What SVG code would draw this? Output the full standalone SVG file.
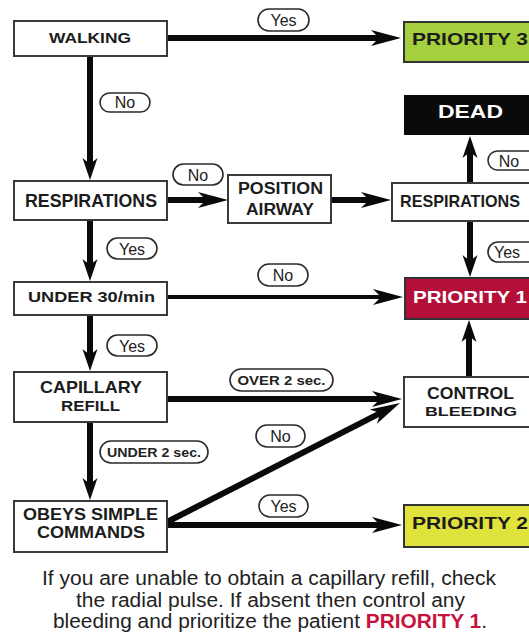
<svg xmlns="http://www.w3.org/2000/svg" width="529" height="637" viewBox="0 0 529 637">
<style>
.box{fill:#fff;stroke:#3a3a3a;stroke-width:2}
.lbl{font-family:"Liberation Sans",Arial,sans-serif;font-weight:bold;fill:#1c1c1c;text-anchor:middle}
.st{text-anchor:start}
.wt{fill:#fff}
.pill{fill:#fff;stroke:#2a2a2a;stroke-width:1.6}
.pt{font-family:"Liberation Sans",Arial,sans-serif;font-size:16px;fill:#222;text-anchor:middle}
.pb{font-weight:bold;font-size:13px}
.ch{stroke:#0a0a0a;stroke-width:6;fill:none;marker-end:url(#ah)}
.cv{stroke:#0a0a0a;stroke-width:6;fill:none;marker-end:url(#av)}
.thin{stroke-width:4}
.foot{font-family:"Liberation Sans",Arial,sans-serif;font-size:19.5px;fill:#222;text-anchor:middle}
.red{fill:#c8143c;font-weight:bold}
</style>
<defs>
<marker id="ah" markerUnits="userSpaceOnUse" markerWidth="30" markerHeight="16" refX="10" refY="8" orient="auto" overflow="visible">
<path d="M0,0 L30,8 L0,16 L8,8 Z" fill="#0a0a0a"/>
</marker>
<marker id="av" markerUnits="userSpaceOnUse" markerWidth="22" markerHeight="15" refX="8" refY="7.5" orient="auto" overflow="visible">
<path d="M0,0 L22,7.5 L0,15 L6,7.5 Z" fill="#0a0a0a"/>
</marker>
</defs>
<rect width="529" height="637" fill="#fff"/>

<g id="connectors">
<line class="ch" x1="167" y1="38" x2="381" y2="38"/>
<line class="cv" x1="90" y1="56" x2="90" y2="166"/>
<line class="ch" x1="167" y1="200" x2="208" y2="200"/>
<line class="ch" x1="331" y1="200" x2="371" y2="200"/>
<line class="cv" x1="470" y1="183" x2="470" y2="150"/>
<line class="cv" x1="470" y1="221" x2="470" y2="263"/>
<line class="cv" x1="90" y1="220" x2="90" y2="267"/>
<line class="ch thin" x1="167" y1="297" x2="383" y2="297"/>
<line class="cv" x1="90" y1="315" x2="90" y2="357"/>
<line class="ch" x1="167" y1="399" x2="382" y2="399"/>
<line class="cv" x1="469" y1="377" x2="469" y2="334"/>
<line class="cv" x1="90" y1="422" x2="90" y2="486"/>
<line class="ch" x1="167" y1="522" x2="382.2" y2="412.1"/>
<line class="ch" x1="167" y1="525" x2="382" y2="525"/>

<rect class="pill" x="258" y="9" width="51" height="22" rx="11"/>
<text class="pt" x="283.5" y="25.5">Yes</text>
<rect class="pill" x="100" y="93" width="50" height="19" rx="9.5"/>
<text class="pt" x="125" y="108">No</text>
<rect class="pill" x="173" y="164" width="50" height="21" rx="10.5"/>
<text class="pt" x="198" y="180.5">No</text>
<rect class="pill" x="107" y="238" width="50" height="21" rx="10.5"/>
<text class="pt" x="132" y="254.5">Yes</text>
<rect class="pill" x="488" y="151" width="50" height="19" rx="9.5"/>
<text class="pt" x="509" y="166.5">No</text>
<rect class="pill" x="488" y="242" width="50" height="20" rx="10"/>
<text class="pt" x="507" y="257.5">Yes</text>
<rect class="pill" x="258" y="264" width="50" height="22" rx="11"/>
<text class="pt" x="283" y="280.5">No</text>
<rect class="pill" x="107" y="335" width="50" height="21" rx="10.5"/>
<text class="pt" x="132" y="351.5">Yes</text>
<rect class="pill" x="230" y="369" width="103" height="22" rx="11"/>
<text class="pt pb" x="281.5" y="385" textLength="88" lengthAdjust="spacingAndGlyphs">OVER 2 sec.</text>
<rect class="pill" x="100" y="441" width="108" height="22" rx="11"/>
<text class="pt pb" x="154" y="456.5" textLength="94" lengthAdjust="spacingAndGlyphs">UNDER 2 sec.</text>
<rect class="pill" x="256" y="425" width="49" height="22" rx="11"/>
<text class="pt" x="280.5" y="441.5">No</text>
<rect class="pill" x="259" y="495" width="49" height="22" rx="11"/>
<text class="pt" x="283.5" y="511.5">Yes</text>
</g>

<g id="walking">
<rect class="box" x="14" y="21" width="153" height="35"/>
<text class="lbl" x="90" y="43" font-size="15" textLength="82" lengthAdjust="spacingAndGlyphs">WALKING</text>
</g>
<g id="priority3">
<rect x="404" y="22" width="140" height="40" fill="#a5cf3c" stroke="#333" stroke-width="2"/>
<text class="lbl st" x="412" y="45" font-size="17" textLength="116" lengthAdjust="spacingAndGlyphs">PRIORITY 3</text>
</g>
<g id="dead">
<rect x="404" y="95" width="140" height="40" fill="#0a0a0a"/>
<text class="lbl wt" x="470.5" y="118" font-size="18" textLength="65" lengthAdjust="spacingAndGlyphs">DEAD</text>
</g>
<g id="respirations">
<rect class="box" x="14" y="181" width="153" height="39"/>
<text class="lbl" x="91" y="207" font-size="18" textLength="132" lengthAdjust="spacingAndGlyphs">RESPIRATIONS</text>
</g>
<g id="position-airway">
<rect class="box" x="228" y="175" width="103" height="48"/>
<text class="lbl" x="280.5" y="194" font-size="16" textLength="85" lengthAdjust="spacingAndGlyphs">POSITION</text>
<text class="lbl" x="280" y="215" font-size="16" textLength="68" lengthAdjust="spacingAndGlyphs">AIRWAY</text>
</g>
<g id="respirations-2">
<rect class="box" x="392" y="183" width="152" height="38"/>
<text class="lbl st" x="400" y="207" font-size="17" textLength="120" lengthAdjust="spacingAndGlyphs">RESPIRATIONS</text>
</g>
<g id="under30">
<rect class="box" x="14" y="282" width="153" height="33"/>
<text class="lbl" x="91.5" y="302" font-size="14" textLength="127" lengthAdjust="spacingAndGlyphs">UNDER 30/min</text>
</g>
<g id="priority1">
<rect x="405" y="278" width="140" height="41" fill="#b21038" stroke="#333" stroke-width="2"/>
<text class="lbl st wt" x="413" y="303" font-size="17" textLength="114" lengthAdjust="spacingAndGlyphs">PRIORITY 1</text>
</g>
<g id="capillary-refill">
<rect class="box" x="14" y="372" width="153" height="50"/>
<text class="lbl" x="91" y="393" font-size="17" textLength="102" lengthAdjust="spacingAndGlyphs">CAPILLARY</text>
<text class="lbl" x="90.5" y="411" font-size="14" textLength="59" lengthAdjust="spacingAndGlyphs">REFILL</text>
</g>
<g id="control-bleeding">
<rect class="box" x="404" y="377" width="140" height="50"/>
<text class="lbl" x="470.5" y="399" font-size="17" textLength="87" lengthAdjust="spacingAndGlyphs">CONTROL</text>
<text class="lbl" x="471" y="416" font-size="13" textLength="92" lengthAdjust="spacingAndGlyphs">BLEEDING</text>
</g>
<g id="obeys">
<rect class="box" x="14" y="501" width="153" height="51"/>
<text class="lbl" x="90.5" y="520" font-size="16" textLength="135" lengthAdjust="spacingAndGlyphs">OBEYS SIMPLE</text>
<text class="lbl" x="91" y="538" font-size="16" textLength="108" lengthAdjust="spacingAndGlyphs">COMMANDS</text>
</g>
<g id="priority2">
<rect x="404" y="505" width="140" height="42" fill="#e0e33b" stroke="#333" stroke-width="2"/>
<text class="lbl st" x="412" y="529" font-size="17" textLength="116" lengthAdjust="spacingAndGlyphs">PRIORITY 2</text>
</g>

<g id="note">
<text class="foot" x="269" y="585" textLength="454" lengthAdjust="spacingAndGlyphs">If you are unable to obtain a capillary refill, check</text>
<text class="foot" x="270.5" y="607" textLength="389" lengthAdjust="spacingAndGlyphs">the radial pulse. If absent then control any</text>
<text class="foot" x="270" y="628" textLength="434" lengthAdjust="spacingAndGlyphs">bleeding and prioritize the patient <tspan class="red">PRIORITY 1</tspan>.</text>
</g>
</svg>
